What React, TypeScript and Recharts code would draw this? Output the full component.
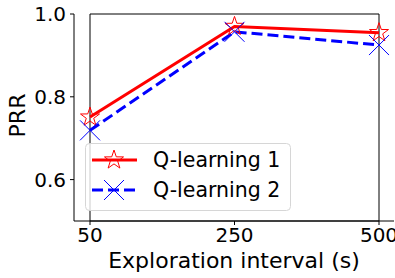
import React from 'react';
import { LineChart, Line, XAxis, YAxis, ReferenceArea, Legend } from 'recharts';

const categories = ['50', '250', '500'];
const q1Values = [0.751, 0.970, 0.955];
const q2Values = [0.719, 0.957, 0.925];
const seriesNames = ['Q-learning 1', 'Q-learning 2'];
const yTicks = [0.6, 0.8, 1.0];
const xAxisTitle = 'Exploration interval (s)';
const yAxisTitle = 'PRR';

const data = categories.map((c, i) => ({ x: c, q1: q1Values[i], q2: q2Values[i] }));

const FONT = '"DejaVu Sans", sans-serif';
const RED = '#ff0000';
const BLUE = '#0000ff';
const SPINE = '#000000';

function starPath(cx: number, cy: number, R: number, r: number) {
  let d = '';
  for (let i = 0; i < 10; i++) {
    const rad = i % 2 === 0 ? R : r;
    const a = -Math.PI / 2 + (i * Math.PI) / 5;
    d += (i === 0 ? 'M' : 'L') + (cx + rad * Math.cos(a)).toFixed(2) + ',' + (cy + rad * Math.sin(a)).toFixed(2);
  }
  return d + 'Z';
}

const Star = ({ cx, cy }: { cx: number; cy: number }) => (
  <path d={starPath(cx, cy, 10, 3.9)} fill="none" stroke={RED} strokeWidth={1} />
);

const Cross = ({ cx, cy }: { cx: number; cy: number }) => (
  <g stroke={BLUE} strokeWidth={1}>
    <line x1={cx - 10} y1={cy - 10} x2={cx + 10} y2={cy + 10} />
    <line x1={cx - 10} y1={cy + 10} x2={cx + 10} y2={cy - 10} />
  </g>
);

const starDot = (p: any) =>
  p.cx == null ? <g key={`s${p.index}`} /> : <Star key={`s${p.index}`} cx={p.cx} cy={p.cy} />;
const crossDot = (p: any) =>
  p.cx == null ? <g key={`c${p.index}`} /> : <Cross key={`c${p.index}`} cx={p.cx} cy={p.cy} />;

const renderLegend = () => (
  <svg width={206} height={68} style={{ display: 'block' }}>
    <rect x={0.5} y={0.5} width={205} height={67} rx={4} ry={4} fill="rgba(255,255,255,0.8)" stroke="#d6d6d6" strokeWidth={1} />
    <line x1={7} y1={17} x2={52} y2={17} stroke={RED} strokeWidth={3} />
    <Star cx={29} cy={17} />
    <text x={68} y={24} fontFamily={FONT} fontSize={20.5} fill="#000">{seriesNames[0]}</text>
    <line x1={7} y1={47} x2={52} y2={47} stroke={BLUE} strokeWidth={3} strokeDasharray="11 5" />
    <Cross cx={29} cy={47} />
    <text x={68} y={54} fontFamily={FONT} fontSize={20.5} fill="#000">{seriesNames[1]}</text>
  </svg>
);

const YLabel = (props: any) => {
  const vb = props.viewBox || { x: 0, y: 14, width: 74, height: 207 };
  const cx = vb.x + 17.5;
  const cy = vb.y + vb.height / 2 - 2;
  return (
    <text
      x={cx}
      y={cy}
      transform={`rotate(-90 ${cx} ${cy})`}
      textAnchor="middle"
      dominantBaseline="central"
      fontFamily={FONT}
      fontSize={22}
      fill="#000"
    >
      {yAxisTitle}
    </text>
  );
};

export default function App() {
  return (
    <div style={{ position: 'absolute', left: 0, top: 0, background: '#fff' }}>
      <LineChart width={395} height={278} data={data} margin={{ top: 14, right: 1, bottom: 0, left: 0 }}>
        <XAxis
          dataKey="x"
          interval={0}
          padding={{ left: 16, right: 15 }}
          height={57}
          tickSize={4}
          tickMargin={3}
          axisLine={{ stroke: SPINE, strokeWidth: 1 }}
          tickLine={{ stroke: '#000', strokeWidth: 1 }}
          tick={{ fontSize: 20, fill: '#000', fontFamily: FONT }}
          label={{ value: xAxisTitle, position: 'insideBottom', offset: 10, fontSize: 22, fill: '#000', fontFamily: FONT }}
        />
        <YAxis
          type="number"
          domain={[0.5, 1.0]}
          ticks={yTicks}
          width={74}
          tickSize={4}
          tickMargin={4}
          tickFormatter={(v: number) => v.toFixed(1)}
          axisLine={{ stroke: SPINE, strokeWidth: 1 }}
          tickLine={{ stroke: '#000', strokeWidth: 1 }}
          tick={{ fontSize: 20, fill: '#000', fontFamily: FONT }}
          label={<YLabel />}
        />
        <ReferenceArea y1={0.5} y2={1.0} fill="none" stroke={SPINE} strokeWidth={1} fillOpacity={0} strokeOpacity={1} />
        <Line
          name={seriesNames[0]}
          dataKey="q1"
          stroke={RED}
          strokeWidth={3}
          dot={starDot}
          activeDot={false}
          isAnimationActive={false}
        />
        <Line
          name={seriesNames[1]}
          dataKey="q2"
          stroke={BLUE}
          strokeWidth={3}
          strokeDasharray="11 5"
          dot={crossDot}
          activeDot={false}
          isAnimationActive={false}
        />
        <Legend
          layout="horizontal"
          verticalAlign="middle"
          align="center"
          content={renderLegend}
          wrapperStyle={{ left: 85, top: 143, width: 206, height: 68 }}
        />
      </LineChart>
    </div>
  );
}
